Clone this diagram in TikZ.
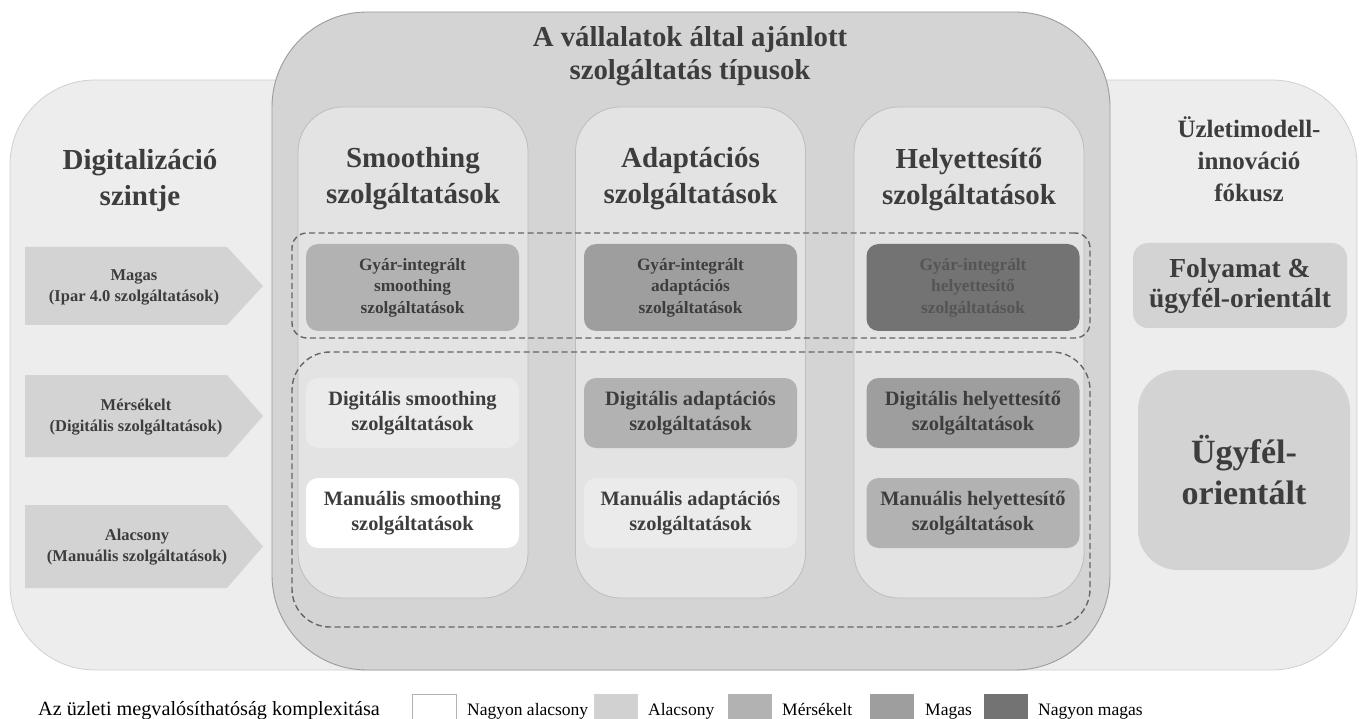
\documentclass[tikz,border=0pt]{standalone}
\usepackage{fontspec}
\setmainfont{Liberation Serif}
\definecolor{outerfill}{HTML}{EDEDED}
\definecolor{outerline}{HTML}{D0D0D0}
\definecolor{bigfill}{HTML}{D4D4D4}
\definecolor{bigline}{HTML}{9C9C9C}
\definecolor{colfill}{HTML}{E3E3E3}
\definecolor{colline}{HTML}{BDBDBD}
\definecolor{txt}{HTML}{3D3D3D}
\definecolor{txtdim}{HTML}{555555}
\definecolor{lvA}{HTML}{FFFFFF}
\definecolor{lvB}{HTML}{EBEBEB}
\definecolor{lvL}{HTML}{D1D1D1}
\definecolor{lvC}{HTML}{B2B2B2}
\definecolor{lvD}{HTML}{9E9E9E}
\definecolor{lvE}{HTML}{737373}
\definecolor{arrowfill}{HTML}{D3D3D3}
\definecolor{dashcol}{HTML}{666666}
\begin{document}
\begin{tikzpicture}[x=1pt,y=-1pt,
  panel/.style={rounded corners=#1, inner sep=0pt},
  head/.style={text=txt, align=center, inner sep=0pt, font={\fontsize{29}{36}\selectfont\bfseries}},
  ibox/.style={rounded corners=12pt, inner sep=0pt, align=center, text=txt,
     minimum width=213pt, font={\fontsize{20.4}{25.5}\selectfont\bfseries}},
  gbox/.style={ibox, minimum height=87pt, font={\fontsize{17.3}{21.5}\selectfont\bfseries}},
  dbox/.style={ibox, minimum height=70pt},
  colbox/.style={panel=45pt, fill=colfill, draw=colline, line width=0.8pt, minimum width=230pt, minimum height=491pt},
  dashbox/.style={draw=dashcol, line width=1.4pt, dash pattern=on 6pt off 3.5pt, inner sep=0pt, minimum width=798pt},
  lvlarrow/.style={fill=arrowfill},
  lbl/.style={text=txt, align=center, inner sep=0pt, font={\fontsize{16.5}{21}\selectfont\bfseries}},
  legbox/.style={inner sep=0pt, minimum width=44pt, minimum height=30pt, anchor=north west},
  legtxt/.style={text=black, inner sep=0pt, anchor=base west, font={\fontsize{17.5}{20}\selectfont}}
]
\useasboundingbox[fill=white] (0,0) rectangle (1363,719);

% outer panel
\node[panel=85pt, fill=outerfill, draw=outerline, line width=0.8pt, minimum width=1347pt, minimum height=590pt] (outer) at (683.5,375) {};
% big panel
\node[panel=95pt, fill=bigfill, draw=bigline, line width=0.9pt, minimum width=838pt, minimum height=658pt] (big) at (691,341) {};
\node[head, font={\fontsize{28.8}{33}\selectfont\bfseries}] (title) at (690,56) {A vállalatok által ajánlott\\szolgáltatás típusok};

% columns
\node[colbox] (c1) at (413,352.5) {};
\node[colbox] (c2) at (690.5,352.5) {};
\node[colbox] (c3) at (969,352.5) {};
\node[head] (h1) at (413,179) {Smoothing\\szolgáltatások};
\node[head] (h2) at (690.5,179) {Adaptációs\\szolgáltatások};
\node[head] (h3) at (969,179) {Helyettesítő\\szolgáltatások};

% dashed groups
\node[dashbox, rounded corners=15pt, minimum height=105pt] (dg1) at (691,285.5) {};
\node[dashbox, rounded corners=38pt, minimum height=275pt] (dg2) at (691,489.5) {};

% inner boxes
\node[gbox, fill=lvC] (gs) at (412.5,287.5) {Gyár-integrált\\smoothing\\szolgáltatások};
\node[gbox, fill=lvD] (ga) at (690.5,287.5) {Gyár-integrált\\adaptációs\\szolgáltatások};
\node[gbox, fill=lvE, text=txtdim] (gh) at (973,287.5) {Gyár-integrált\\helyettesítő\\szolgáltatások};
\node[dbox, fill=lvB] (ds) at (412.5,413) {Digitális smoothing\\szolgáltatások};
\node[dbox, fill=lvC] (da) at (690.5,413) {Digitális adaptációs\\szolgáltatások};
\node[dbox, fill=lvD] (dh) at (973,413) {Digitális helyettesítő\\szolgáltatások};
\node[dbox, fill=lvA] (ms) at (412.5,513) {Manuális smoothing\\szolgáltatások};
\node[dbox, fill=lvB] (ma) at (690.5,513) {Manuális adaptációs\\szolgáltatások};
\node[dbox, fill=lvC] (mh) at (973,513) {Manuális helyettesítő\\szolgáltatások};

% left side
\node[head] (lh) at (140,181) {Digitalizáció\\szintje};
\fill[lvlarrow] (25,247) -- (227,247) -- (263,286) -- (227,325) -- (25,325) -- cycle;
\fill[lvlarrow] (25,375) -- (227,375) -- (263,416) -- (227,457) -- (25,457) -- cycle;
\fill[lvlarrow] (25,505) -- (227,505) -- (263,546.5) -- (227,588) -- (25,588) -- cycle;
\node[lbl] (l1) at (134,287) {Magas\\(Ipar 4.0 szolgáltatások)};
\node[lbl] (l2) at (136,417) {Mérsékelt\\(Digitális szolgáltatások)};
\node[lbl] (l3) at (137,547.5) {Alacsony\\(Manuális szolgáltatások)};

% right side
\node[head, font={\fontsize{25}{32}\selectfont\bfseries}] (rh) at (1249,159) {Üzletimodell-\\innováció\\fókusz};
\node[panel=15pt, fill=arrowfill, minimum width=214pt, minimum height=85pt, align=center, text=txt, font={\fontsize{27.5}{30}\selectfont\bfseries}] (r1) at (1240,285.5) {Folyamat \&\\ügyfél-orientált};
\node[panel=40pt, fill=arrowfill, minimum width=212pt, minimum height=200pt, align=center, text=txt, font={\fontsize{34}{41}\selectfont\bfseries}] (r2) at (1244,470) {Ügyfél-\\orientált};

% legend
\node[text=black, inner sep=0pt, anchor=base east, font={\fontsize{20.2}{22}\selectfont}] (legt) at (380,715) {Az üzleti megvalósíthatóság komplexitása};
\node[legbox, fill=white, draw=lvC, line width=1pt] (k1) at (412,694) {};
\node[legtxt] (t1) at (467,715) {Nagyon alacsony};
\node[legbox, fill=lvL] (k2) at (594,694) {};
\node[legtxt] (t2) at (648,715) {Alacsony};
\node[legbox, fill=lvC] (k3) at (728,694) {};
\node[legtxt] (t3) at (782,715) {Mérsékelt};
\node[legbox, fill=lvD] (k4) at (870,694) {};
\node[legtxt] (t4) at (925,715) {Magas};
\node[legbox, fill=lvE] (k5) at (984,694) {};
\node[legtxt] (t5) at (1038,715) {Nagyon magas};
\end{tikzpicture}
\end{document}
